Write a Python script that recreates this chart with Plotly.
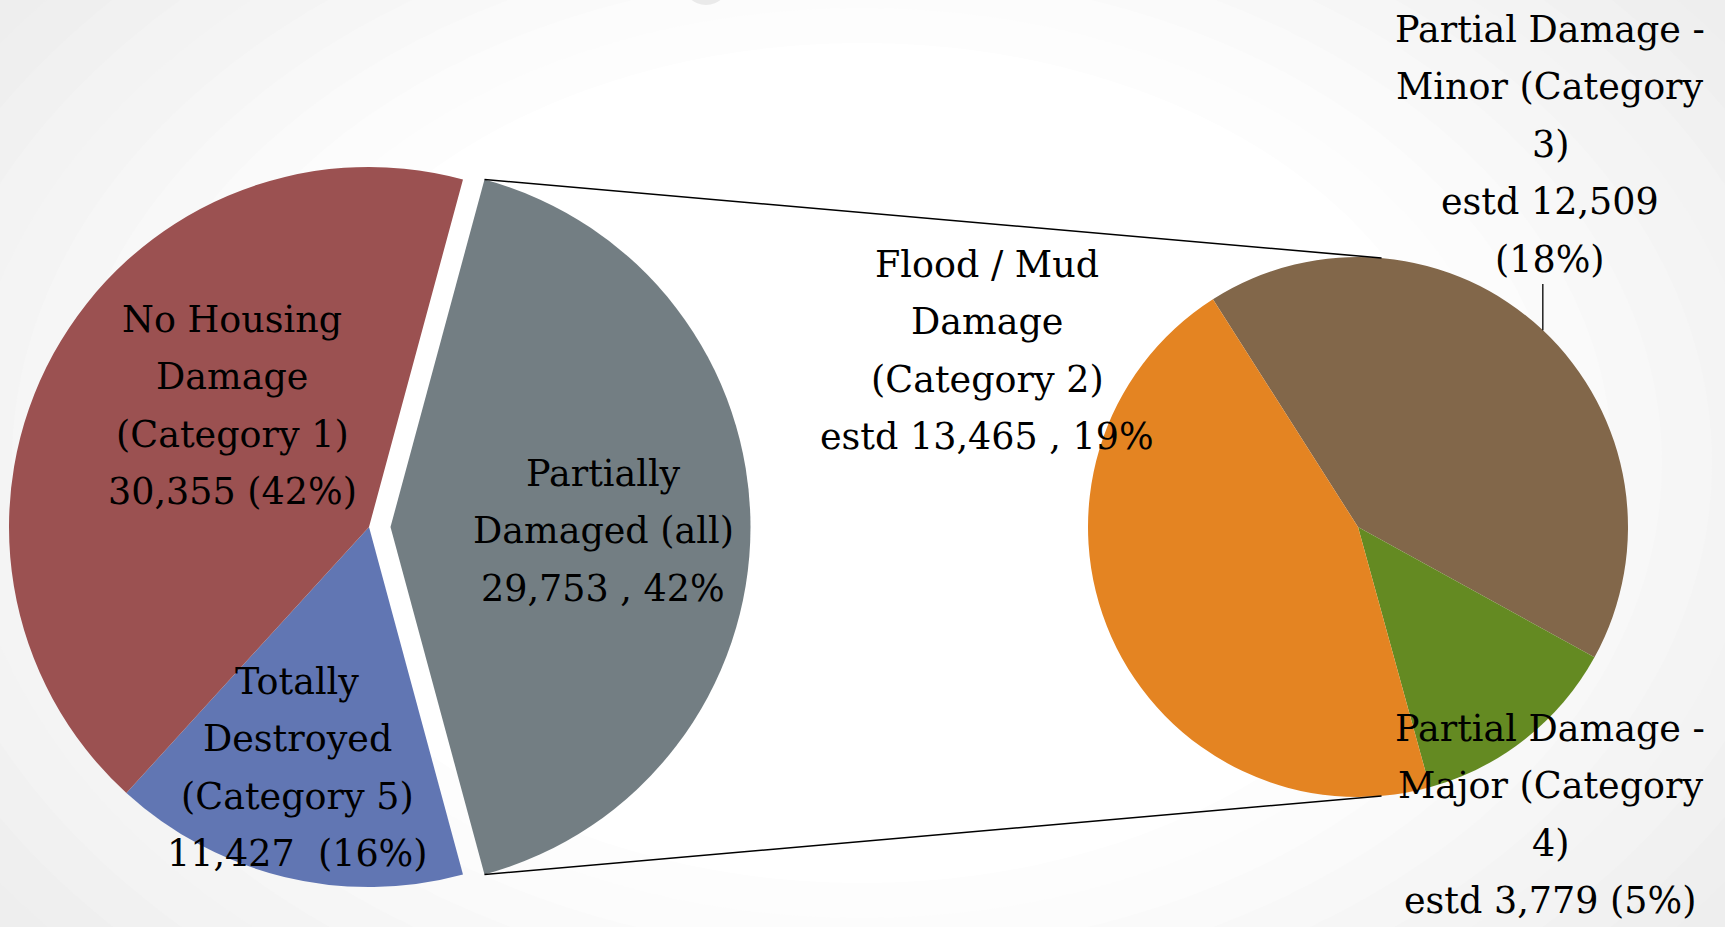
import math
import plotly.graph_objects as go

W, H = 1725, 927

# ---------------- data ----------------
main_labels = ["Partially Damaged (all)", "Totally Destroyed (Category 5)", "No Housing Damage (Category 1)"]
main_values = [29753, 11427, 30355]
main_colors = ["#737E83", "#6176B3", "#9B5151"]

sub_labels = ["Partial Damage - Minor (Category 3)", "Partial Damage - Major (Category 4)", "Flood / Mud Damage (Category 2)"]
sub_values = [12509, 3779, 13465]
sub_colors = ["#82674A", "#648A22", "#E48422"]

main_text = [
    ["Partially", "Damaged (all)", "29,753 , 42%"],
    ["Totally", "Destroyed", "(Category 5)", "11,427\u00a0 (16%)"],
    ["No Housing", "Damage", "(Category 1)", "30,355 (42%)"],
]
sub_text = [
    ["Partial Damage -", "Minor (Category", "3)", "estd 12,509", "(18%)"],
    ["Partial Damage -", "Major (Category", "4)", "estd 3,779 (5%)"],
    ["Flood / Mud", "Damage", "(Category 2)", "estd 13,465 , 19%"],
]

# ---------------- geometry / styles ----------------
L_CX, L_CY, L_R = 369, 527, 360
PULL_PX = 21.5
R_CX, R_CY, R_R = 1358, 527, 270
SUB_ROT = -32.5

main_label_pos = [(603, 486), (297, 694), (232, 332)]   # centre x, first baseline
sub_label_pos = [(1550, 42), (1550, 741), (987, 277)]
LINE_STEP = 57.4
FONT = "DejaVu Serif"
FSIZE = 36.5
BASE_OFF = 12.6

TRANSP = "rgba(0,0,0,0)"


def px(x):
    return x / W


def py(y):
    return 1 - y / H


def domain(cx, cy, r):
    return dict(x=[(cx - r) / W, (cx + r) / W], y=[1 - (cy + r) / H, 1 - (cy - r) / H])


total = sum(main_values)
gray_angle = 360.0 * main_values[0] / total
main_rot = 90 - gray_angle / 2

fig = go.Figure()

# base pie (red + blue)
fig.add_trace(go.Pie(
    values=main_values, labels=main_labels, sort=False, direction="clockwise",
    rotation=main_rot, textinfo="none", showlegend=False,
    marker=dict(colors=[TRANSP, main_colors[1], main_colors[2]], line=dict(width=0)),
    domain=domain(L_CX, L_CY, L_R),
))
# exploded slice (gray)
fig.add_trace(go.Pie(
    values=main_values, labels=main_labels, sort=False, direction="clockwise",
    rotation=main_rot, textinfo="none", showlegend=False,
    marker=dict(colors=[main_colors[0], TRANSP, TRANSP], line=dict(width=0)),
    domain=domain(L_CX + PULL_PX, L_CY, L_R),
))
# secondary pie
fig.add_trace(go.Pie(
    values=sub_values, labels=sub_labels, sort=False, direction="clockwise",
    rotation=SUB_ROT, textinfo="none", showlegend=False,
    marker=dict(colors=sub_colors, line=dict(width=0)),
    domain=domain(R_CX, R_CY, R_R),
))

shapes = []
# background radial gradient (approximate)
GX, GY, GRX, GRY = 862, 463, 1000, 700
steps = [1.25 - 0.05 * k for k in range(14)]
for d in steps:
    f = min(max((d - 0.6) / 0.6, 0), 1)
    c = int(round(255 - 21 * f))
    shapes.append(dict(type="circle", xref="paper", yref="paper", layer="below",
                       x0=px(GX - GRX * d), x1=px(GX + GRX * d),
                       y0=py(GY + GRY * d), y1=py(GY - GRY * d),
                       fillcolor=f"rgb({c},{c},{c})", line=dict(width=0)))
# faint decoration at top
shapes.append(dict(type="circle", xref="paper", yref="paper", layer="below",
                   x0=px(683), x1=px(729), y0=py(5), y1=py(-40),
                   fillcolor="rgb(234,234,234)", line=dict(width=0)))

# connector lines
gx = L_CX + PULL_PX
a0 = math.radians(main_rot)
a1 = math.radians(main_rot + gray_angle)
p_top = (gx + L_R * math.sin(a0), L_CY - L_R * math.cos(a0))
p_bot = (gx + L_R * math.sin(a1), L_CY - L_R * math.cos(a1))
b0, b1 = math.radians(5), math.radians(175)
q_top = (R_CX + R_R * math.sin(b0), R_CY - R_R * math.cos(b0))
q_bot = (R_CX + R_R * math.sin(b1), R_CY - R_R * math.cos(b1))
for p, q in [(p_top, q_top), (p_bot, q_bot)]:
    shapes.append(dict(type="line", xref="paper", yref="paper", layer="above",
                       x0=px(p[0]), y0=py(p[1]), x1=px(q[0]), y1=py(q[1]),
                       line=dict(color="black", width=1.6)))
# leader line for minor label
la = math.radians(43.2)
lx = R_CX + R_R * math.sin(la)
ly = R_CY - R_R * math.cos(la)
shapes.append(dict(type="line", xref="paper", yref="paper", layer="above",
                   x0=px(lx), y0=py(284), x1=px(lx), y1=py(ly),
                   line=dict(color="black", width=1.3)))

annotations = []
for lines, (cx, by) in list(zip(main_text, main_label_pos)) + list(zip(sub_text, sub_label_pos)):
    for i, t in enumerate(lines):
        annotations.append(dict(
            text=t, x=px(cx), y=py(by + i * LINE_STEP - BASE_OFF), xref="paper", yref="paper",
            xanchor="center", yanchor="middle", showarrow=False,
            font=dict(family=FONT, size=FSIZE, color="black"),
        ))

fig.update_layout(
    width=W, height=H, margin=dict(l=0, r=0, t=0, b=0),
    paper_bgcolor="rgb(234,234,234)", plot_bgcolor="rgba(0,0,0,0)",
    shapes=shapes, annotations=annotations,
)

fig.write_html(
    "out.html",
    config={"displayModeBar": False},
    post_script="document.body.style.margin='0';document.body.style.overflow='hidden';",
)
